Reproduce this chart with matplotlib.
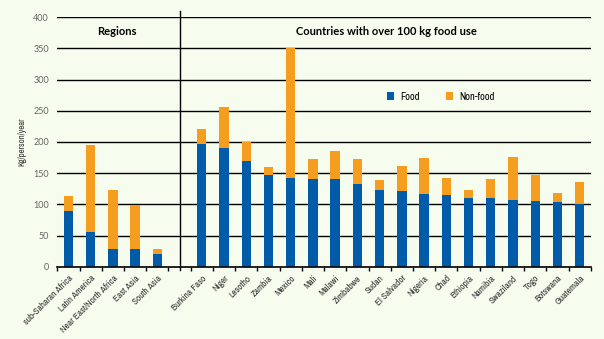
from matplotlib import pyplot
import matplotlib.ticker as ticker

# Regions, then countries with over 100 kg food use
regions = ['sub-Saharan Africa', 'Latin America', 'Near East/North Africa', 'East Asia', 'South Asia']
region_food = [89, 56, 28, 28, 21]
region_total = [114, 195, 123, 99, 28]

countries = ['Burkina Faso', 'Niger', 'Lesotho', 'Zambia', 'Mexico', 'Mali', 'Malawi', 'Zimbabwe',
             'Sudan', 'El Salvador', 'Nigeria', 'Chad', 'Ethiopia', 'Namibia', 'Swaziland', 'Togo',
             'Botswana', 'Guatemala']
country_food = [196, 191, 170, 147, 143, 141, 141, 133, 123, 122, 117, 115, 110, 110, 107, 106, 104, 101]
country_total = [221, 256, 200, 160, 351, 173, 186, 173, 139, 162, 175, 143, 123, 141, 176, 147, 118, 136]

labels = regions + countries
food = region_food + country_food
nonfood = [t - f for t, f in zip(region_total + country_total, food)]
# one empty slot between the two groups
pos = list(range(len(regions))) + [i + len(regions) + 1 for i in range(len(countries))]

bg = '#f6fcee'
blue = '#005ca8'
orange = '#f59d1e'
narrow = ['Archivo Narrow', 'Liberation Sans Narrow', 'DejaVu Sans']
pyplot.rcParams['font.family'] = ['Lato', 'DejaVu Sans']

fig = pyplot.figure(figsize=(6.04, 3.39), dpi=100, facecolor=bg)
ax = fig.add_axes([0.0949, 0.2133, 0.8832, 0.7357], facecolor=bg)

for y in range(50, 401, 50):
    ax.axhline(y, color='black', linewidth=1, zorder=1)

ax.bar(pos, food, width=0.42, color=blue, label='Food', zorder=2)
ax.bar(pos, nonfood, bottom=food, width=0.42, color=orange, label='Non-food', zorder=2)

ax.set_xlim(-0.5, 23.5)
ax.set_ylim(0, 400)

for s in ['top', 'right', 'left']:
    ax.spines[s].set_visible(False)
ax.spines['bottom'].set_linewidth(1.2)

# divider between the groups
ax.plot([5, 5], [-0.013, 1.025], color='black', linewidth=1, transform=ax.get_xaxis_transform(),
        clip_on=False, zorder=3)

ax.yaxis.set_major_locator(ticker.MultipleLocator(50))
ax.tick_params(axis='y', length=0, pad=6, labelsize=6.5, labelcolor='#666666')

ax.set_xticks(pos)
ax.set_xticklabels(labels, rotation=45, ha='right', rotation_mode='anchor', fontsize=6.7,
                   color='#333333', family=narrow)
ax.tick_params(axis='x', which='major', length=0, pad=5)
ax.xaxis.set_minor_locator(ticker.FixedLocator([i - 0.5 for i in range(25)]))
ax.tick_params(axis='x', which='minor', length=3, width=1, color='black')

ax.set_ylabel('Kg/person/year', fontsize=6.3, color='#333333', labelpad=5, family=narrow)

ax.text(2.2, 378, 'Regions', ha='center', va='center', fontsize=8, fontweight='bold')
ax.text(14.3, 378, 'Countries with over 100 kg food use', ha='center', va='center',
        fontsize=8, fontweight='bold')

ax.legend(loc='upper left', bbox_to_anchor=(0.6, 0.74), ncol=2, frameon=False,
          prop={'family': narrow, 'size': 7.5},
          handlelength=0.7, handleheight=0.7, columnspacing=2.5, handletextpad=0.6)

fig.savefig('out.png', facecolor=bg)
